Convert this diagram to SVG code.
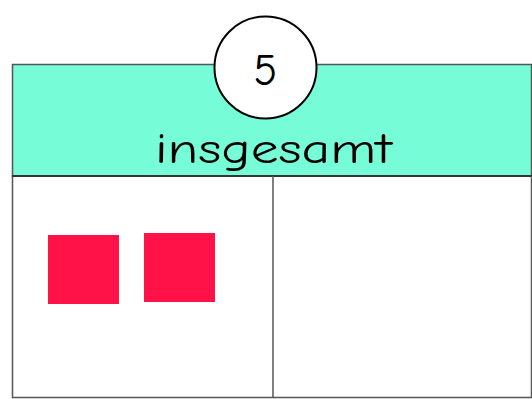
<svg xmlns="http://www.w3.org/2000/svg" width="532" height="399" viewBox="0 0 532 399">
<style>
.t{font-family:"Comic Neue","Open Sans","DejaVu Sans",sans-serif;fill:#000}
.sq{fill:#FF1248}
</style>
<rect width="532" height="399" fill="#fff"/>
<g id="table">
<rect x="12.5" y="176" width="519" height="221.5" fill="#fff" stroke="#555" stroke-width="1.5"/>
<rect x="12.5" y="64.5" width="519" height="111.5" fill="#76FDD7" stroke="#555" stroke-width="1.5"/>
<line x1="12.5" y1="176" x2="531.5" y2="176" stroke="#222" stroke-width="1.5"/>
<line x1="273" y1="176" x2="273" y2="397.5" stroke="#555" stroke-width="1.5"/>
<text class="t" x="273.5" y="163" font-size="43" text-anchor="middle" textLength="237" lengthAdjust="spacingAndGlyphs">insgesamt</text>
</g>
<g id="circle">
<circle cx="265.5" cy="67.5" r="51" fill="#fff" stroke="#000" stroke-width="2"/>
<text class="t" x="265.5" y="85" font-size="44" text-anchor="middle">5</text>
</g>
<g id="squares">
<rect class="sq" x="48" y="235" width="71" height="69"/>
<rect class="sq" x="144" y="233" width="71" height="69"/>
</g>
</svg>
